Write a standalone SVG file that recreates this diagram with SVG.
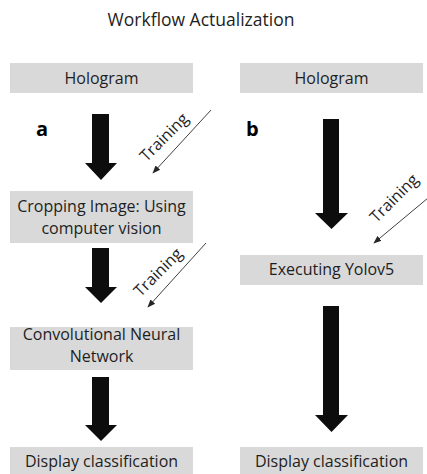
<svg xmlns="http://www.w3.org/2000/svg" width="427" height="474" viewBox="0 0 427 474">
<defs>
<style>
.box{fill:#d9d9d9}
.t{font-family:"Open Sans","Liberation Sans",sans-serif;font-size:16px;fill:#1e1e1e;text-anchor:middle}
.title{font-family:"Open Sans","Liberation Sans",sans-serif;font-size:17.5px;fill:#1e1e1e;text-anchor:middle}
.tr{font-family:"Open Sans","Liberation Sans",sans-serif;font-size:16px;fill:#1e1e1e;text-anchor:middle}
.lbl{font-family:"Open Sans","Liberation Sans",sans-serif;font-size:20px;font-weight:bold;fill:#000}
.big{fill:#0d0d0d}
.thin{stroke:#404040;stroke-width:1;fill:none;marker-end:url(#ah)}
</style>
<marker id="ah" viewBox="0 0 10 10" refX="9" refY="5" markerWidth="8" markerHeight="8" orient="auto" markerUnits="userSpaceOnUse">
<path d="M0,1 L10,5 L0,9 Z" fill="#262626"/>
</marker>
</defs>
<rect width="427" height="474" fill="#fff"/>
<text class="title" x="201" y="26">Workflow Actualization</text>
<text class="lbl" x="36" y="136">a</text>
<text class="lbl" x="246" y="136">b</text>

<g id="n-hologram-a"><rect class="box" x="10" y="63" width="183" height="30"/><text class="t" x="101.5" y="84">Hologram</text></g>
<g id="n-crop"><rect class="box" x="10" y="191" width="183" height="52"/><text class="t" x="101.5" y="212">Cropping Image: Using</text><text class="t" x="101.5" y="234">computer vision</text></g>
<g id="n-cnn"><rect class="box" x="10" y="327" width="183" height="43"/><text class="t" x="101.5" y="340">Convolutional Neural</text><text class="t" x="101.5" y="362">Network</text></g>
<g id="n-display-a"><rect class="box" x="10" y="447" width="183" height="30"/><text class="t" x="101.5" y="467">Display classification</text></g>

<g id="n-hologram-b"><rect class="box" x="240" y="63" width="183" height="30"/><text class="t" x="331.5" y="84">Hologram</text></g>
<g id="n-yolo"><rect class="box" x="240" y="255" width="183" height="30"/><text class="t" x="331.5" y="275">Executing Yolov5</text></g>
<g id="n-display-b"><rect class="box" x="240" y="447" width="183" height="30"/><text class="t" x="331.5" y="467">Display classification</text></g>

<g id="connectors">
<polygon class="big" points="92,114 109,114 109,163 117,163 101,180 85,163 92,163"/>
<polygon class="big" points="92,248 109,248 109,287 117,287 101,303 85,287 92,287"/>
<polygon class="big" points="92,377 109,377 109,425 117,425 101,441 85,425 92,425"/>
<polygon class="big" points="323,119 339,119 339,213 348,213 331.5,229 315,213 323,213"/>
<polygon class="big" points="323,306 339,306 339,415 348,415 331.5,432 315,415 323,415"/>
<line class="thin" x1="211" y1="110" x2="153" y2="173"/>
<line class="thin" x1="206" y1="243" x2="148" y2="307"/>
<line class="thin" x1="428" y1="198" x2="374" y2="243"/>
<text class="tr" transform="translate(168,141) rotate(-45)">Training</text>
<text class="tr" transform="translate(162,276) rotate(-45)">Training</text>
<text class="tr" transform="translate(398,202) rotate(-45)">Training</text>
</g>
</svg>
